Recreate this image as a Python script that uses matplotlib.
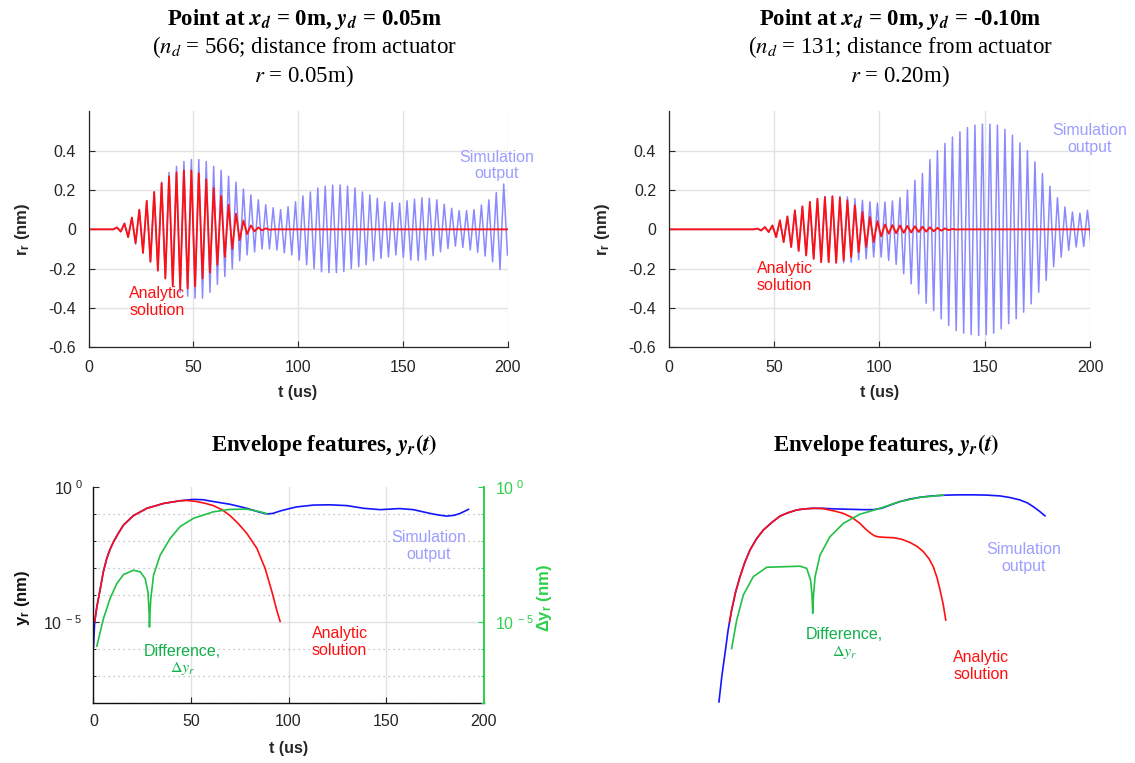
import numpy as np
import matplotlib
matplotlib.use("Agg")
import matplotlib.pyplot as plt
import matplotlib.transforms as mtrans
from matplotlib.ticker import FixedLocator, FixedFormatter, NullFormatter

plt.rcParams['font.family'] = ['Liberation Sans', 'DejaVu Sans']
plt.rcParams['mathtext.fontset'] = 'custom'
plt.rcParams['mathtext.rm'] = 'Liberation Sans'
plt.rcParams['mathtext.it'] = 'Liberation Sans:italic'
plt.rcParams['mathtext.bf'] = 'Liberation Sans:bold'

# ---------------- data ----------------
# Top-left point: per-cycle positive / negative peaks (nm)
tl_t0, tl_period = 13.6, 3.55
tl_sim_pos = [0.01, 0.03, 0.06, 0.10, 0.145, 0.19, 0.24, 0.29, 0.32, 0.345, 0.355, 0.355, 0.345,
              0.32, 0.30, 0.27, 0.24, 0.205, 0.175, 0.15, 0.125, 0.11, 0.10, 0.115, 0.14, 0.17,
              0.19, 0.21, 0.22, 0.225, 0.226, 0.22, 0.21, 0.19, 0.175, 0.158, 0.14, 0.136, 0.133,
              0.145, 0.153, 0.16, 0.158, 0.15, 0.128, 0.107, 0.095, 0.095, 0.10, 0.124, 0.15,
              0.187, 0.23]
tl_sim_neg = [-0.01, -0.04, -0.075, -0.12, -0.165, -0.21, -0.25, -0.29, -0.32, -0.34, -0.35,
              -0.35, -0.32, -0.28, -0.24, -0.20, -0.16, -0.13, -0.115, -0.10, -0.10, -0.105,
              -0.12, -0.13, -0.156, -0.18, -0.20, -0.216, -0.22, -0.22, -0.215, -0.20, -0.19,
              -0.18, -0.16, -0.148, -0.14, -0.13, -0.143, -0.156, -0.158, -0.155, -0.134,
              -0.114, -0.097, -0.085, -0.092, -0.105, -0.117, -0.136, -0.165, -0.204, -0.13]
tl_ana_pos = [0.01, 0.03, 0.06, 0.10, 0.145, 0.19, 0.235, 0.27, 0.29, 0.30, 0.30, 0.285, 0.255,
              0.21, 0.17, 0.125, 0.08, 0.045, 0.02, 0.01, 0.005]
tl_ana_neg = [-0.012, -0.04, -0.07, -0.12, -0.165, -0.21, -0.25, -0.29, -0.30, -0.30, -0.29,
              -0.25, -0.22, -0.18, -0.14, -0.10, -0.055, -0.024, -0.01, -0.005, -0.002]

# Top-right point
tr_t0, tr_period = 42.1, 3.56
tr_sim_pos = [0.004, 0.012, 0.02, 0.046, 0.066, 0.097, 0.117, 0.14, 0.156, 0.165, 0.168, 0.168,
              0.165, 0.156, 0.148, 0.14, 0.134, 0.139, 0.144, 0.161, 0.199, 0.25, 0.284, 0.355,
              0.40, 0.437, 0.47, 0.496, 0.518, 0.53, 0.535, 0.535, 0.53, 0.508, 0.479, 0.44,
              0.40, 0.343, 0.284, 0.219, 0.161, 0.114, 0.088, 0.083, 0.097]
tr_sim_neg = [-0.006, -0.014, -0.04, -0.065, -0.09, -0.11, -0.133, -0.15, -0.167, -0.167, -0.17,
              -0.17, -0.167, -0.155, -0.15, -0.141, -0.141, -0.158, -0.178, -0.226, -0.277,
              -0.328, -0.376, -0.413, -0.455, -0.489, -0.515, -0.528, -0.535, -0.54, -0.535,
              -0.528, -0.506, -0.48, -0.455, -0.421, -0.379, -0.32, -0.26, -0.19, -0.141,
              -0.107, -0.09, -0.087, -0.09]
tr_ana_pos = [0.004, 0.012, 0.02, 0.046, 0.066, 0.097, 0.117, 0.14, 0.156, 0.165, 0.168, 0.161,
              0.148, 0.122, 0.088, 0.063, 0.042, 0.025, 0.022, 0.02, 0.018, 0.016, 0.014, 0.011,
              0.008, 0.005, 0.002]
tr_ana_neg = [-0.006, -0.014, -0.04, -0.065, -0.09, -0.11, -0.133, -0.15, -0.167, -0.167, -0.17,
              -0.158, -0.141, -0.116, -0.09, -0.065, -0.036, -0.022, -0.02, -0.018, -0.016,
              -0.014, -0.012, -0.01, -0.007, -0.004, -0.001]

# Bottom-left envelopes: time (us) and log10 of amplitude (nm)
bl_sim_t = [0, 0.6, 1.7, 3.4, 5.0, 6.8, 8.5, 10.3, 12.8, 15.4, 20.5, 27.4, 35.9, 44.4, 51, 56,
            61.5, 70, 78.6, 85, 88.9, 92, 95.7, 100, 104, 112.8, 121, 130, 138.5, 147, 152,
            157, 164, 172.6, 177, 181, 185, 188, 192.3]
bl_sim_e = [-5.93, -5.0, -4.45, -3.8, -3.15, -2.64, -2.3, -2.02, -1.7, -1.4, -1.05, -0.78, -0.6,
            -0.5, -0.45, -0.46, -0.53, -0.63, -0.78, -0.92, -0.99, -0.97, -0.88, -0.8, -0.73,
            -0.66, -0.65, -0.68, -0.78, -0.83, -0.81, -0.79, -0.83, -0.97, -1.03, -1.07, -1.04,
            -0.97, -0.82]
bl_ana_t = [0.6, 1.7, 3.4, 5.0, 6.8, 8.5, 10.3, 12.8, 15.4, 20.5, 27.4, 35.9, 44.4, 48, 53, 57,
            61.5, 66, 70, 74, 78.6, 83.8, 88, 91.5, 94, 95.7]
bl_ana_e = [-5.0, -4.45, -3.8, -3.15, -2.64, -2.3, -2.02, -1.7, -1.4, -1.05, -0.78, -0.6, -0.5,
            -0.49, -0.53, -0.59, -0.68, -0.84, -1.05, -1.33, -1.71, -2.27, -3.01, -3.88, -4.57,
            -4.98]
bl_dif_t = [1.7, 5.1, 8.5, 12, 15.4, 20.5, 24, 26.5, 27.9, 28.5, 28.7, 29.0, 29.4, 30.8, 34.2,
            39.3, 44.4, 51.3, 61.5, 70, 78.6, 85.5, 88.9]
bl_dif_e = [-5.9, -4.88, -4.13, -3.57, -3.24, -3.08, -3.14, -3.39, -3.88, -4.6, -5.19, -4.6,
            -4.13, -3.26, -2.52, -1.9, -1.46, -1.15, -0.91, -0.82, -0.81, -0.91, -0.98]

# Bottom-right envelopes
br_sim_t = [22.8, 24.3, 25.9, 27.5, 29.3, 31.3, 33.6, 36, 38.7, 42, 45.5, 50, 54.1, 58, 62.7, 67,
            71.2, 76, 81.4, 86, 91.7, 97, 102, 106.2, 111, 115.6, 120.5, 125.9, 132, 139.6, 146,
            153.2, 160, 166.9, 172, 177.2, 181, 184, 187, 190]
br_sim_e = [-7.97, -7.0, -6.17, -5.3, -4.56, -3.9, -3.32, -2.8, -2.33, -1.92, -1.59, -1.3, -1.07,
            -0.95, -0.84, -0.8, -0.78, -0.78, -0.80, -0.81, -0.82, -0.83, -0.83, -0.78, -0.65,
            -0.53, -0.44, -0.37, -0.32, -0.29, -0.28, -0.28, -0.29, -0.32, -0.38, -0.47, -0.58,
            -0.72, -0.88, -1.06]
br_ana_t = [28.2, 29.3, 31.3, 33.6, 36, 38.7, 42, 45.5, 50, 54.1, 58, 62.7, 67, 71.2, 76, 78, 82,
            86.6, 91, 95.1, 98, 100.3, 102.5, 104.5, 108, 112.2, 116.5, 120.8, 124.5, 127.6,
            130.5, 132.7, 134.6, 136.2, 137.8, 139.1]
br_ana_e = [-5.0, -4.56, -3.9, -3.32, -2.8, -2.33, -1.92, -1.59, -1.3, -1.07, -0.95, -0.84, -0.8,
            -0.78, -0.79, -0.82, -0.88, -0.97, -1.12, -1.34, -1.55, -1.69, -1.8, -1.84, -1.86,
            -1.87, -1.93, -2.05, -2.2, -2.39, -2.65, -2.95, -3.35, -3.82, -4.35, -4.93]
br_dif_t = [29.3, 31.9, 35.3, 40.4, 47.3, 55.8, 64.4, 67.8, 69.8, 70.5, 70.9, 71.3, 72.1, 74.6,
            79.7, 86.6, 95.1, 105.4, 115.6, 125.9, 137.9]
br_dif_e = [-5.99, -4.93, -4.0, -3.32, -2.97, -2.95, -2.93, -3.01, -3.45, -4.0, -4.68, -4.0,
            -3.32, -2.52, -1.84, -1.34, -1.0, -0.78, -0.53, -0.37, -0.29]

top_xticks = [0, 50, 100, 150, 200]
top_yticks = [-0.6, -0.4, -0.2, 0, 0.2, 0.4]
top_yticklabels = ['-0.6', '-0.4', '-0.2', '0', '0.2', '0.4']
log_major = [1e-5, 1e0]
log_major_labels = [r'$\mathregular{10^{\ -5}}$', r'$\mathregular{10^{\ 0}}$']
log_minor = [1e-8, 1e-7, 1e-6, 1e-4, 1e-3, 1e-2, 1e-1]

# ---------------- styling ----------------
W, H = 1135, 763
SIM_LIGHT = '#8a8aff'
SIM_DARK = '#1515ff'
RED = '#ff1010'
GREEN_LINE = '#22c046'
GREEN_AX = '#2fcf4a'
GREEN_TXT = '#12b24a'
SIM_TXT = '#9d9dff'
AXC = '#262626'
GRIDC = '#e2e2e2'

fig = plt.figure(figsize=(W / 100, H / 100), dpi=100)
px = mtrans.Affine2D().scale(1.0 / W, -1.0 / H).translate(0, 1) + fig.transFigure


def add_ax(l, r, t, b):
    return fig.add_axes([l / W, 1 - b / H, (r - l) / W, (b - t) / H])


def wave(t0, period, pos, neg, tail):
    t = [0.0, t0 - period / 2]
    y = [0.0, 0.0]
    for k, (p, n) in enumerate(zip(pos, neg)):
        t += [t0 + k * period, t0 + (k + 0.5) * period]
        y += [p, n]
    if tail:
        t += [t0 + len(pos) * period, 200.0]
        y += [0.0, 0.0]
    return np.array(t), np.array(y)


def style_top(ax):
    ax.set_xlim(0, 200)
    ax.set_ylim(-0.6, 0.6)
    ax.xaxis.set_major_locator(FixedLocator(top_xticks))
    ax.yaxis.set_major_locator(FixedLocator(top_yticks))
    ax.yaxis.set_major_formatter(FixedFormatter(top_yticklabels))
    for s in ['top', 'right']:
        ax.spines[s].set_visible(False)
    for s in ['left', 'bottom']:
        ax.spines[s].set_color(AXC)
        ax.spines[s].set_linewidth(0.9)
    ax.grid(True, color=GRIDC, lw=1.0)
    ax.set_axisbelow(True)
    ax.tick_params(direction='in', length=4, width=0.8, colors=AXC, labelsize=11.5)
    ax.tick_params(axis='y', pad=9)
    ax.tick_params(axis='x', pad=9)


def top_panel(l, r, t0, period, sp, sn, ap, an, ylab_x, sim_pos, ana_pos):
    ax = add_ax(l, r, 111.4, 347.3)
    style_top(ax)
    ts, ys = wave(t0, period, sp, sn, tail=False)
    ta, ya = wave(t0, period, ap, an, tail=True)
    ax.plot(ts, ys, color=SIM_LIGHT, lw=1.1, clip_on=True)
    ax.plot(ta, ya, color=RED, lw=1.3)
    ax.set_xlabel('t (us)', fontsize=11.5, fontweight='bold', color=AXC, va='center')
    ax.xaxis.set_label_coords((l + r) / 2, 393, transform=px)
    ax.set_ylabel(r'$\mathbf{r_r}$ (nm)', fontsize=12, fontweight='bold', color=AXC,
                  va='center')
    ax.yaxis.set_label_coords(ylab_x, 229, transform=px)
    ax.text(sim_pos[0], sim_pos[1], 'Simulation\noutput', color=SIM_TXT, fontsize=11.5,
            ha='center', va='center', linespacing=1.15, clip_on=False)
    ax.text(ana_pos[0], ana_pos[1], 'Analytic\nsolution', color=RED, fontsize=11.5,
            ha='center', va='center', linespacing=1.15)
    return ax


top_panel(88.5, 507.5, tl_t0, tl_period, tl_sim_pos, tl_sim_neg, tl_ana_pos, tl_ana_neg,
          22, (195, 0.325), (32.7, -0.37))
top_panel(668.7, 1090.1, tr_t0, tr_period, tr_sim_pos, tr_sim_neg, tr_ana_pos, tr_ana_neg,
          603, (200, 0.458), (55, -0.243))

# titles
TFS = 16.5
for cx, l1, l2, l3 in [
    (304, r'Point at $\mathbfit{x_d}$ = 0m, $\mathbfit{y_d}$ = 0.05m',
     r'($n_d$ = 566; distance from actuator', r'$r$ = 0.05m)'),
    (900, r'Point at $\mathbfit{x_d}$ = 0m, $\mathbfit{y_d}$ = -0.10m',
     r'($n_d$ = 131; distance from actuator', r'$r$ = 0.20m)')]:
    fig.text(cx, 19, l1, transform=px, ha='center', va='center', fontsize=TFS,
             fontweight='bold', family='Liberation Serif', math_fontfamily='stix')
    fig.text(cx, 47, l2, transform=px, ha='center', va='center', fontsize=TFS,
             family='Liberation Serif', math_fontfamily='stix')
    fig.text(cx, 76, l3, transform=px, ha='center', va='center', fontsize=TFS,
             family='Liberation Serif', math_fontfamily='stix')

for cx in (324, 886):
    fig.text(cx, 445, r'Envelope features, $\mathbfit{y_r}\mathbf{(}\mathbfit{t}\mathbf{)}$',
             transform=px, ha='center', va='center', fontsize=TFS, fontweight='bold',
             family='Liberation Serif', math_fontfamily='stix')


def log_setup(ax):
    ax.set_yscale('log')
    ax.set_xlim(0, 200)
    ax.set_ylim(1e-8, 1e0)


def lines_bottom(ax, st, se, at, ae, dt, de):
    ax.plot(st, 10 ** np.array(se), color=SIM_DARK, lw=1.2)
    ax.plot(at, 10 ** np.array(ae), color=RED, lw=1.2)
    ax.plot(dt, 10 ** np.array(de), color=GREEN_LINE, lw=1.2)


# bottom-left
axb = add_ax(93.5, 483.5, 487.3, 702.7)
log_setup(axb)
axb.xaxis.set_major_locator(FixedLocator(top_xticks))
axb.yaxis.set_major_locator(FixedLocator(log_major))
axb.yaxis.set_major_formatter(FixedFormatter(log_major_labels))
axb.yaxis.set_minor_locator(FixedLocator(log_minor))
axb.yaxis.set_minor_formatter(NullFormatter())
axb.spines['top'].set_visible(False)
axb.spines['right'].set_visible(False)
for s in ['left', 'bottom']:
    axb.spines[s].set_color('#111111')
    axb.spines[s].set_linewidth(1.0)
axb.grid(True, axis='x', color=GRIDC, lw=1.0)
axb.grid(True, which='minor', axis='y', color='#b5b5b5', lw=0.9, ls=(0, (1, 3)))
axb.axhline(1e-5, color=GRIDC, lw=1.0, zorder=0.5)
axb.set_axisbelow(True)
axb.tick_params(direction='in', length=4, width=0.8, colors=AXC, labelsize=11.5, pad=8)
axb.tick_params(which='minor', direction='in', length=2.5, width=0.7, colors=AXC)
lines_bottom(axb, bl_sim_t, bl_sim_e, bl_ana_t, bl_ana_e, bl_dif_t, bl_dif_e)
axb.set_xlabel('t (us)', fontsize=11.5, fontweight='bold', color=AXC, va='center')
axb.xaxis.set_label_coords(288.5, 748, transform=px)
axb.set_ylabel(r'$\mathbf{y_r}$ (nm)', fontsize=12, fontweight='bold', color='#111111',
               va='center')
axb.yaxis.set_label_coords(22, 598, transform=px)

axr = axb.twinx()
log_setup(axr)
axr.yaxis.set_major_locator(FixedLocator(log_major))
axr.yaxis.set_major_formatter(FixedFormatter(log_major_labels))
axr.yaxis.set_minor_locator(FixedLocator(log_minor))
axr.yaxis.set_minor_formatter(NullFormatter())
for s in ['top', 'left', 'bottom']:
    axr.spines[s].set_visible(False)
axr.spines['right'].set_color(GREEN_AX)
axr.spines['right'].set_linewidth(1.4)
axr.tick_params(axis='y', direction='in', length=4, width=0.8, colors=GREEN_AX,
                labelcolor=GREEN_AX, labelsize=11.5, pad=8)
axr.tick_params(axis='y', which='minor', direction='in', length=2.5, width=0.7,
                colors=GREEN_AX)
axr.set_ylabel(r'$\mathbf{\Delta y_r}$ (nm)', fontsize=12, fontweight='bold',
               color=GREEN_AX, va='center', rotation=90)
axr.yaxis.set_label_coords(545, 598, transform=px)

axb.text(171.9, 10 ** -2.17, 'Simulation\noutput', color=SIM_TXT, fontsize=11.5,
         ha='center', va='center', linespacing=1.15)
axb.text(126.2, 10 ** -5.74, 'Analytic\nsolution', color=RED, fontsize=11.5,
         ha='center', va='center', linespacing=1.15)
axb.text(45.7, 10 ** -6.43, 'Difference,\n' + r'$\Delta y_r$', color=GREEN_TXT, fontsize=11.5,
         ha='center', va='center', linespacing=1.15, math_fontfamily='stix')

# bottom-right (axes hidden)
axc = add_ax(674.5, 1064.5, 487.3, 702.7)
log_setup(axc)
axc.axis('off')
lines_bottom(axc, br_sim_t, br_sim_e, br_ana_t, br_ana_e, br_dif_t, br_dif_e)
axc.text(179.2, 10 ** -2.62, 'Simulation\noutput', color=SIM_TXT, fontsize=11.5,
         ha='center', va='center', linespacing=1.15)
axc.text(157.3, 10 ** -6.64, 'Analytic\nsolution', color=RED, fontsize=11.5,
         ha='center', va='center', linespacing=1.15)
axc.text(87.1, 10 ** -5.81, 'Difference,\n' + r'$\Delta y_r$', color=GREEN_TXT, fontsize=11.5,
         ha='center', va='center', linespacing=1.15, math_fontfamily='stix')

fig.savefig('out.png', dpi=100, facecolor='white')
